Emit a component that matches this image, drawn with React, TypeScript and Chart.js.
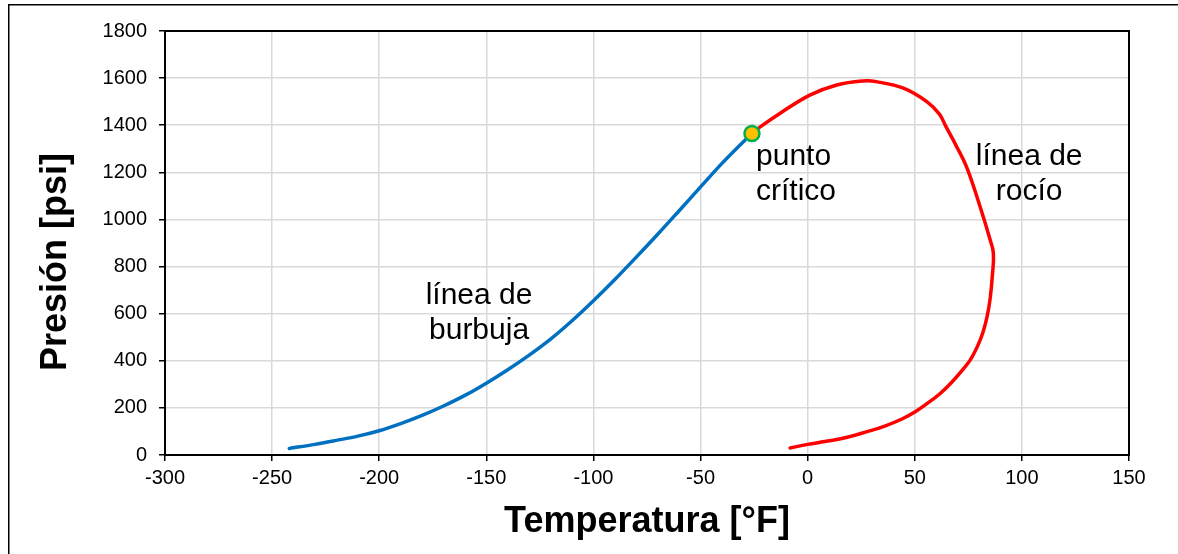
import React, { useEffect, useRef } from 'react';
import { Chart, registerables } from 'chart.js';

Chart.register(...registerables);

const FONT = "'Liberation Sans', Arial, Helvetica, sans-serif";

// Bubble-point line (línea de burbuja)
const bubbleT = [-242, -230, -220, -210, -200, -190, -180, -170, -160, -150, -140, -130, -120, -110, -100, -90, -80, -70, -60, -50, -40, -30, -26];
const bubbleP = [28, 45, 62, 80, 103, 133, 168, 208, 253, 305, 362, 424, 492, 570, 655, 745, 840, 937, 1037, 1138, 1238, 1330, 1365];

// Dew-point line (línea de rocío), from the critical point around the envelope
const dewT = [-26, -22, -13, 1, 13.6, 26, 32, 44.7, 55.6, 61.5, 64.5, 69.5, 74.3, 80.5, 85.2, 86.7, 86.2, 85.2, 83.8, 81.8, 79.2, 76, 72, 68, 62, 56, 50.6, 44, 36, 27.7, 18, 8, 0, -8.2];
const dewP = [1365, 1394, 1450, 1528, 1571, 1588, 1585, 1557, 1500, 1447, 1395, 1310, 1220, 1054, 913, 856, 760, 665, 590, 520, 460, 405, 358, 316, 262, 220, 186, 153, 123, 99, 74, 57, 45, 30];

// Critical point (punto crítico)
const criticalT = [-26];
const criticalP = [1365];

// Axis ticks
const xTicks = [-300, -250, -200, -150, -100, -50, 0, 50, 100, 150];
const yTicks = [0, 200, 400, 600, 800, 1000, 1200, 1400, 1600, 1800];

const xTitle = 'Temperatura [°F]';
const yTitle = 'Presión [psi]';

// Annotations (anchored in data coordinates: first-line baseline)
const noteLines = [['línea de', 'burbuja'], ['punto', 'crítico'], ['línea de', 'rocío']];
const noteT = [-153.4, -24.1, 103.4];
const noteP = [641, 1231, 1231];
const noteAlign: CanvasTextAlign[] = ['center', 'left', 'center'];

const toPts = (xs: number[], ys: number[]) => xs.map((x, i) => ({ x, y: ys[i] }));

const overlayPlugin = {
  id: 'overlay',
  beforeDatasetsDraw(chart: any) {
    const { ctx, chartArea: a } = chart;
    ctx.save();
    ctx.strokeStyle = '#000';
    ctx.lineWidth = 2;
    ctx.strokeRect(a.left, a.top, a.right - a.left, a.bottom - a.top);
    ctx.restore();
  },
  afterDraw(chart: any) {
    const { ctx, chartArea: a, scales } = chart;
    ctx.save();
    // outer frame
    ctx.strokeStyle = '#000';
    ctx.lineWidth = 1.5;
    ctx.strokeRect(8.75, 4.75, 1400, 800);
    // annotations
    ctx.fillStyle = '#000';
    ctx.font = `30px ${FONT}`;
    ctx.textBaseline = 'alphabetic';
    noteLines.forEach((lines, i) => {
      const x = scales.x.getPixelForValue(noteT[i]);
      const y = scales.y.getPixelForValue(noteP[i]);
      ctx.textAlign = noteAlign[i];
      lines.forEach((t, j) => ctx.fillText(t, x, y + j * 35));
    });
    // axis titles
    ctx.font = `bold 36px ${FONT}`;
    ctx.textAlign = 'center';
    ctx.textBaseline = 'middle';
    ctx.fillText(xTitle, (a.left + a.right) / 2, 522);
    ctx.translate(56, 262);
    ctx.rotate(-Math.PI / 2);
    ctx.fillText(yTitle, 0, 0);
    ctx.restore();
  },
};

export default function App() {
  const ref = useRef<HTMLCanvasElement>(null);
  useEffect(() => {
    if (!ref.current) return;
    const chart = new Chart(ref.current, {
      type: 'scatter',
      data: {
        datasets: [
          {
            label: 'punto crítico',
            data: toPts(criticalT, criticalP),
            pointRadius: 7.5,
            pointBorderWidth: 2.5,
            pointBackgroundColor: '#FFC000',
            pointBorderColor: '#00B050',
            showLine: false,
            order: -1,
          },
          {
            label: 'línea de burbuja',
            data: toPts(bubbleT, bubbleP),
            showLine: true,
            borderColor: '#0070C0',
            borderWidth: 3.5,
            pointRadius: 0,
            tension: 0.4,
            cubicInterpolationMode: 'monotone',
            borderCapStyle: 'round',
            order: 1,
          },
          {
            label: 'línea de rocío',
            data: toPts(dewT, dewP),
            showLine: true,
            borderColor: '#FF0000',
            borderWidth: 3.5,
            pointRadius: 0,
            tension: 0.4,
            borderCapStyle: 'round',
            borderJoinStyle: 'round',
            order: 1,
          },
        ],
      },
      options: {
        animation: false,
        responsive: false,
        layout: { padding: { left: 0, top: 31, right: 49, bottom: 0 } },
        plugins: { legend: { display: false }, tooltip: { enabled: false } },
        scales: {
          x: {
            type: 'linear',
            min: -300,
            max: 150,
            afterBuildTicks: (s: any) => { s.ticks = xTicks.map((v) => ({ value: v })); },
            afterFit: (s: any) => { s.height = 99; },
            ticks: { font: { family: FONT, size: 20 }, color: '#000', padding: 5, maxRotation: 0, autoSkip: false, callback: (v: any) => String(v) },
            grid: { color: '#d9d9d9', lineWidth: 1.5, tickColor: '#000', tickLength: 6, tickWidth: 1.5 },
            border: { color: '#000', width: 2 },
          },
          y: {
            type: 'linear',
            min: 0,
            max: 1800,
            afterBuildTicks: (s: any) => { s.ticks = yTicks.map((v) => ({ value: v })); },
            afterFit: (s: any) => { s.width = 165; },
            ticks: { font: { family: FONT, size: 20 }, color: '#000', padding: 12, autoSkip: false, callback: (v: any) => String(v) },
            grid: { color: '#d9d9d9', lineWidth: 1.5, tickColor: '#000', tickLength: 6, tickWidth: 1.5 },
            border: { color: '#000', width: 2 },
          },
        },
      },
      plugins: [overlayPlugin],
    });
    return () => chart.destroy();
  }, []);
  return (
    <div style={{ position: 'fixed', left: 0, top: 0, width: 1178, height: 554, overflow: 'hidden', background: '#fff' }}>
      <canvas ref={ref} width={1178} height={554} style={{ display: 'block', width: 1178, height: 554 }} />
    </div>
  );
}
